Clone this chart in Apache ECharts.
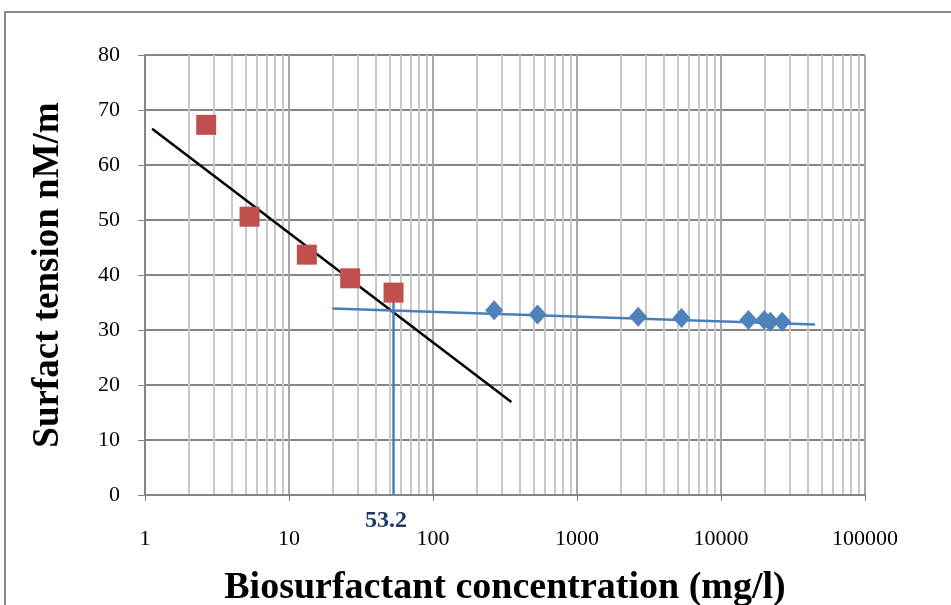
<!DOCTYPE html>
<html lang="en">
<head>
    <meta charset="UTF-8">
    <title>Surface tension vs biosurfactant concentration</title>
    <script type="text/javascript" src="https://cdn.jsdelivr.net/npm/echarts@6/dist/echarts.min.js"></script>
    <style>
        html, body { margin: 0; padding: 0; background: #fff; }
    </style>
</head>
<body>
<div id="main" style="width: 951px;height:605px"></div>
<script type="text/javascript">
    // dilutions of the biosurfactant (red squares)
    var dilutionConc = [2.66, 5.32, 13.3, 26.6, 53.2];
    var dilutionTension = [67.3, 50.6, 43.7, 39.4, 36.8];
    // concentrated samples (blue diamonds)
    var plateauConc = [266, 532, 2660, 5320, 15500, 20000, 22000, 26600];
    var plateauTension = [33.6, 32.8, 32.4, 32.2, 31.8, 31.8, 31.5, 31.5];
    // trend lines
    var steepLineX = [1.12, 350];
    var steepLineY = [66.6, 16.9];
    var flatLineX = [20, 45000];
    var flatLineY = [33.9, 31.0];
    var cmcValue = 53.2;
    var cmcLineY = [0, 36];

    function pairs(xs, ys) {
        var out = [];
        for (var i = 0; i < xs.length; i++) {
            out.push([xs[i], ys[i]]);
        }
        return out;
    }

    var chartDom = document.getElementById('main');
    var myChart = echarts.init(chartDom);
    var serif = 'Liberation Serif';

    var option = {
        animation: false,
        backgroundColor: '#fff',
        grid: { left: 145, right: 86, top: 55, bottom: 110, outerBoundsMode: 'none', containLabel: false },
        graphic: [{
            type: 'rect',
            shape: { x: 5, y: 12, width: 1000, height: 700 },
            style: { fill: 'none', stroke: '#888', lineWidth: 2 },
            silent: true
        }, {
            type: 'text',
            x: 386,
            y: 521,
            style: {
                text: String(cmcValue), font: 'bold 24px ' + serif, fill: '#1f3864',
                align: 'center', verticalAlign: 'middle'
            }
        }],
        xAxis: {
            type: 'log',
            logBase: 10,
            min: 1,
            max: 100000,
            name: 'Biosurfactant concentration (mg/l)',
            nameLocation: 'middle',
            nameGap: 74,
            nameTextStyle: { fontFamily: serif, fontWeight: 'bold', fontSize: 38, color: '#000' },
            axisLine: { onZero: false, lineStyle: { color: '#868686', width: 2 } },
            axisTick: { show: true, length: 6, lineStyle: { color: '#868686' } },
            axisLabel: {
                fontFamily: serif, fontSize: 22, color: '#000', margin: 33,
                formatter: function (v) { return String(v); }
            },
            splitLine: { show: true, lineStyle: { color: '#a6a6a6', width: 2 } },
            minorTick: { show: false, splitNumber: 9 },
            minorSplitLine: { show: true, lineStyle: { color: '#c8c8c8', width: 2 } }
        },
        yAxis: {
            type: 'value',
            min: 0,
            max: 80,
            interval: 10,
            name: 'Surfact tension nM/m',
            nameLocation: 'middle',
            nameGap: 78,
            nameTextStyle: { fontFamily: serif, fontWeight: 'bold', fontSize: 37, color: '#000' },
            axisLine: { show: true, lineStyle: { color: '#868686', width: 2 } },
            axisTick: { show: true, length: 7, lineStyle: { color: '#868686' } },
            axisLabel: { fontFamily: serif, fontSize: 22, color: '#000', margin: 25 },
            splitLine: { show: true, lineStyle: { color: '#868686', width: 2 } }
        },
        series: [
            {
                name: 'steep fit',
                type: 'line',
                data: pairs(steepLineX, steepLineY),
                showSymbol: false,
                lineStyle: { color: '#000', width: 2.5 },
                z: 3
            },
            {
                name: 'flat fit',
                type: 'line',
                data: pairs(flatLineX, flatLineY),
                showSymbol: false,
                lineStyle: { color: '#4a7ebb', width: 2.5 },
                z: 3
            },
            {
                name: 'cmc',
                type: 'line',
                data: [[cmcValue, cmcLineY[0]], [cmcValue, cmcLineY[1]]],
                showSymbol: false,
                lineStyle: { color: '#4a7ebb', width: 2.5 },
                z: 3
            },
            {
                name: 'dilutions',
                type: 'scatter',
                data: pairs(dilutionConc, dilutionTension),
                symbol: 'rect',
                symbolSize: 20,
                itemStyle: { color: '#c0504d', opacity: 1 },
                z: 4
            },
            {
                name: 'plateau',
                type: 'scatter',
                data: pairs(plateauConc, plateauTension),
                symbol: 'diamond',
                symbolSize: [18, 20],
                itemStyle: { color: '#4f81bd', opacity: 1 },
                z: 4
            }
        ]
    };

    option && myChart.setOption(option);
</script>
</body>
</html>
